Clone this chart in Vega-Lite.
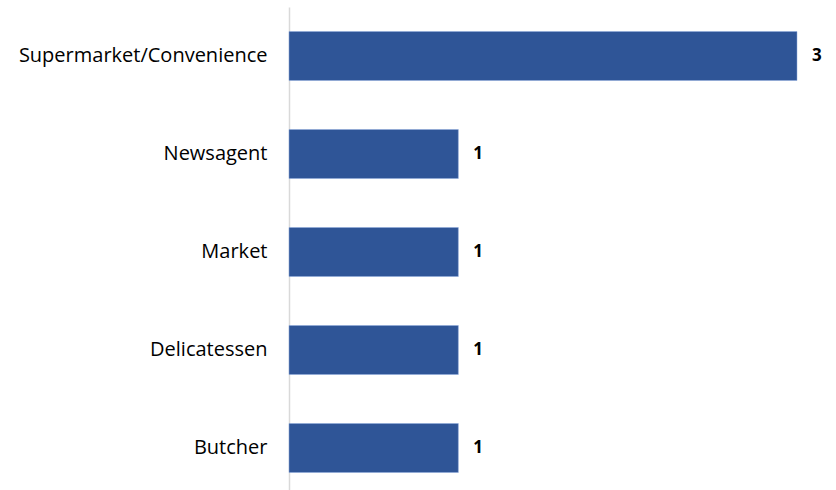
{
  "$schema": "https://vega.github.io/schema/vega-lite/v6.json",
  "autosize": "none",
  "width": 508,
  "height": 490,
  "padding": {"left": 289, "top": 7, "right": 39, "bottom": 0},
  "background": "white",
  "data": {"values": [
    {"category": "Supermarket/Convenience", "value": 3},
    {"category": "Newsagent", "value": 1},
    {"category": "Market", "value": 1},
    {"category": "Delicatessen", "value": 1},
    {"category": "Butcher", "value": 1}
  ]},
  "encoding": {
    "y": {"field": "category", "type": "nominal", "sort": null,
      "scale": {"paddingInner": 0.5, "paddingOuter": 0.25},
      "axis": {"title": null, "ticks": false, "domainColor": "#d9d9d9", "domainWidth": 1.5,
        "labelFont": "Open Sans", "labelFontSize": 20, "labelColor": "#000000", "labelPadding": 22, "labelLimit": 400}},
    "x": {"field": "value", "type": "quantitative", "scale": {"domain": [0, 3]}, "axis": null}
  },
  "layer": [
    {"mark": {"type": "bar", "color": "#2F5597", "stroke": "#8faadc", "strokeWidth": 0.5}},
    {"mark": {"type": "text", "font": "Open Sans", "fontSize": 17, "fontWeight": "bold", "color": "#000000", "align": "left", "dx": 15},
     "encoding": {"text": {"field": "value", "type": "quantitative"}}}
  ],
  "config": {"view": {"stroke": null}}
}
